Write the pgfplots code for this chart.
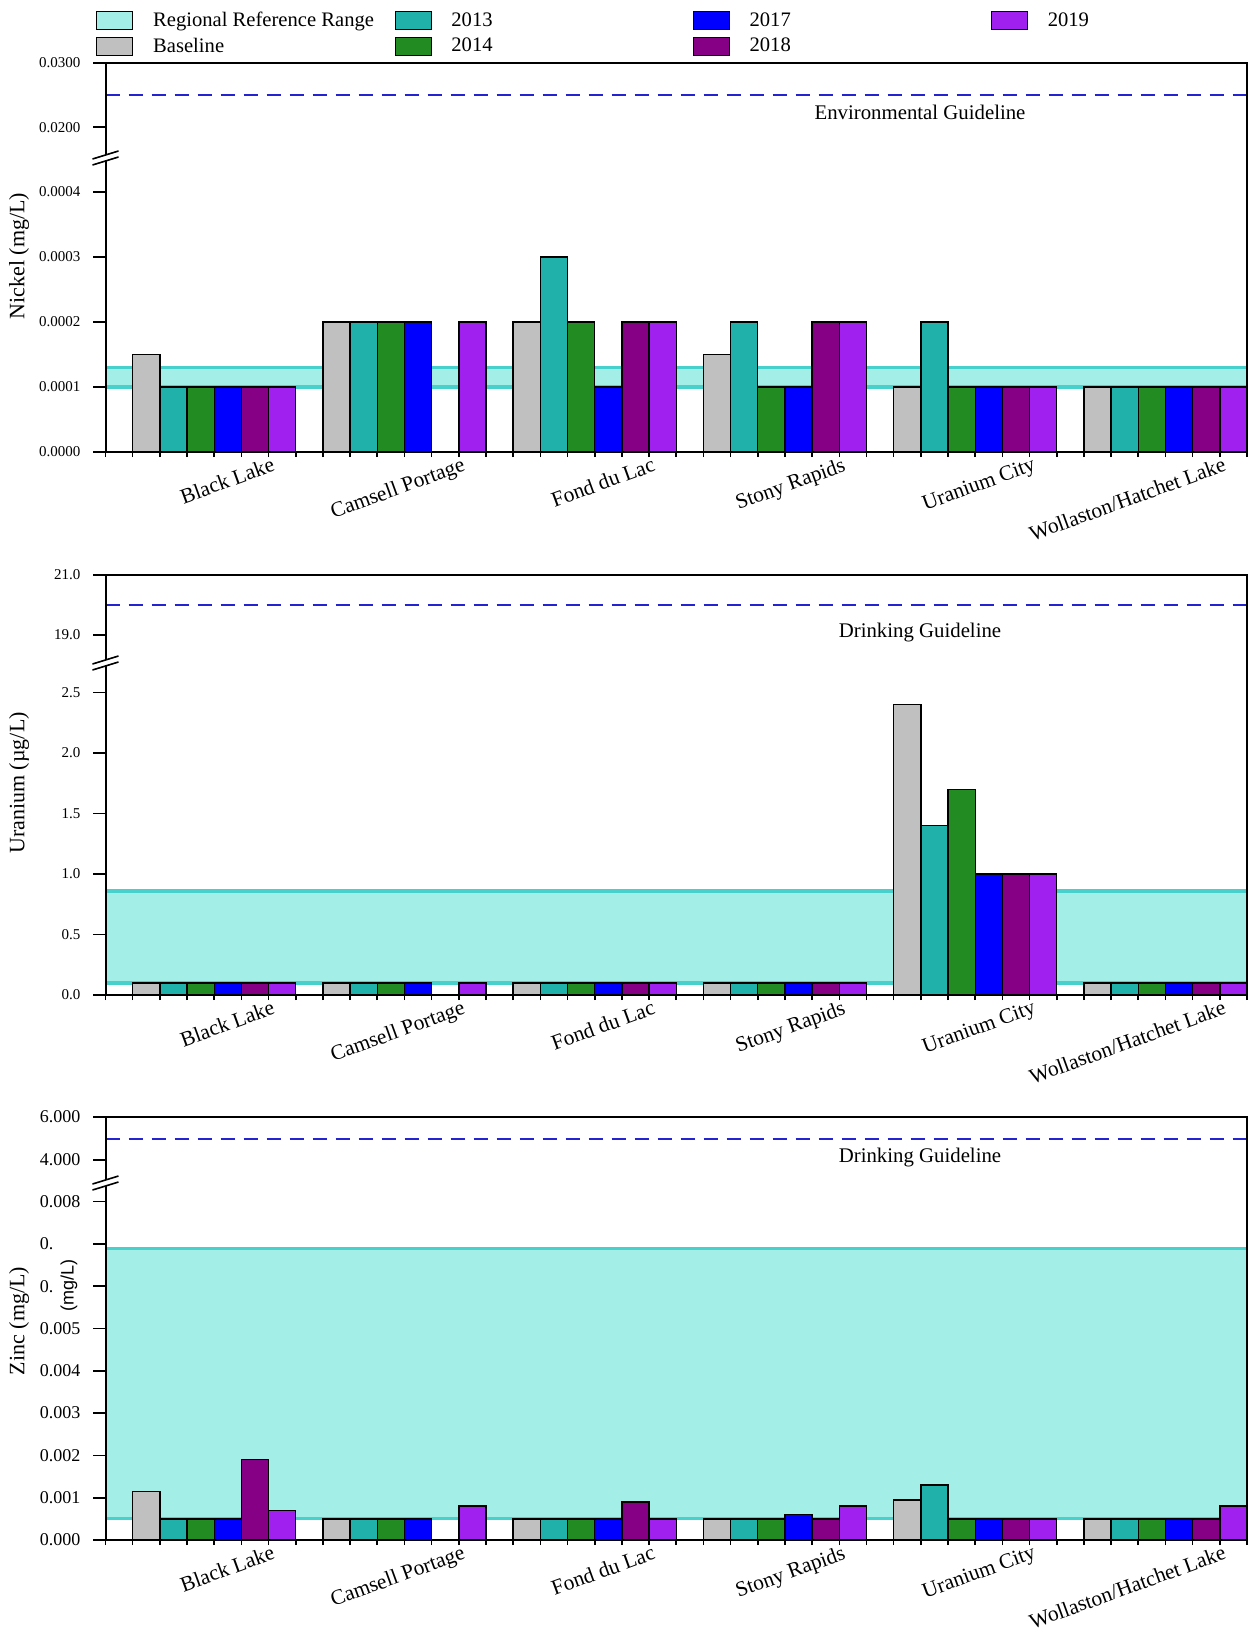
\documentclass[border=0pt]{standalone}
\usepackage{pgfplots}
\pgfplotsset{compat=1.18}
\usepackage{pgfplotstable}
\usepackage{fontspec}
\setmainfont{Liberation Serif}
\newfontfamily\arialfont{Liberation Sans}

\definecolor{cband}{HTML}{A3EEE7}
\definecolor{cbandline}{HTML}{48D1CC}
\definecolor{cbase}{HTML}{C0C0C0}
\definecolor{ca}{HTML}{20B2AA}
\definecolor{cb}{HTML}{228B22}
\definecolor{cc}{HTML}{0000FF}
\definecolor{cd}{HTML}{850085}
\definecolor{ce}{HTML}{A020F0}
\definecolor{cguide}{HTML}{2323CF}

\pgfplotstableread{
g base y13 y14 y17 y18 y19
0 0.00015 0.0001 0.0001 0.0001 0.0001 0.0001
1 0.0002 0.0002 0.0002 0.0002 nan 0.0002
2 0.0002 0.0003 0.0002 0.0001 0.0002 0.0002
3 0.00015 0.0002 0.0001 0.0001 0.0002 0.0002
4 0.0001 0.0002 0.0001 0.0001 0.0001 0.0001
5 0.0001 0.0001 0.0001 0.0001 0.0001 0.0001
}\nickel

\pgfplotstableread{
g base y13 y14 y17 y18 y19
0 0.1 0.1 0.1 0.1 0.1 0.1
1 0.1 0.1 0.1 0.1 nan 0.1
2 0.1 0.1 0.1 0.1 0.1 0.1
3 0.1 0.1 0.1 0.1 0.1 0.1
4 2.4 1.4 1.7 1.0 1.0 1.0
5 0.1 0.1 0.1 0.1 0.1 0.1
}\uranium

\pgfplotstableread{
g base y13 y14 y17 y18 y19
0 0.00115 0.0005 0.0005 0.0005 0.0019 0.0007
1 0.0005 0.0005 0.0005 0.0005 nan 0.0008
2 0.0005 0.0005 0.0005 0.0005 0.0009 0.0005
3 0.0005 0.0005 0.0005 0.0006 0.0005 0.0008
4 0.00095 0.0013 0.0005 0.0005 0.0005 0.0005
5 0.0005 0.0005 0.0005 0.0005 0.0005 0.0008
}\zinc

\pgfplotsset{
  common/.style={scale only axis, width=570.75pt, xmin=0, xmax=42,
    anchor=south west, axis line style={draw=none},
    tick align=outside, ytick pos=left,
    every tick/.style={black, line width=0.8pt},
    tick label style={font=\fontsize{7.5}{9}\selectfont},
    scaled y ticks=false},
  upper/.style={common, xtick=\empty, major tick length=6pt, yticklabel style={xshift=-3pt}},
  lower/.style={common, major tick length=2.5pt, minor tick length=6pt,
    yticklabel style={xshift=-6.5pt},
    xtick={0,...,42}, xticklabels={}, xtick pos=left,
    extra x ticks={6.1,13.1,20.1,27.1,34.1,41.1},
    extra x tick labels={Black Lake,Camsell Portage,Fond du Lac,Stony Rapids,Uranium City,Wollaston/Hatchet Lake},
    extra x tick style={tick style={draw=none},
      tick label style={rotate=20, anchor=north east, inner sep=0pt, yshift=0.5pt,
        font=\fontsize{10.7}{12}\selectfont}}},
  bar/.style={ybar, bar width=1, bar shift=0pt, draw=black, line width=0.7pt, forget plot},
  guide/.style={cguide, line width=1pt, dash pattern=on 7pt off 4.5pt, forget plot},
}

\newcommand{\groupbars}[1]{%
\addplot[bar, fill=cbase] table[x expr=7*\thisrow{g}+1.5, y=base]{#1};
\addplot[bar, fill=ca] table[x expr=7*\thisrow{g}+2.5, y=y13]{#1};
\addplot[bar, fill=cb] table[x expr=7*\thisrow{g}+3.5, y=y14]{#1};
\addplot[bar, fill=cc] table[x expr=7*\thisrow{g}+4.5, y=y17]{#1};
\addplot[bar, fill=cd] table[x expr=7*\thisrow{g}+5.5, y=y18]{#1};
\addplot[bar, fill=ce] table[x expr=7*\thisrow{g}+6.5, y=y19]{#1};
}
\newcommand{\band}[2]{%
\addplot[draw=none, fill=cband, forget plot] coordinates {(0,#1) (42,#1) (42,#2) (0,#2)} -- cycle;
\addplot[cbandline, line width=1.6pt, forget plot] coordinates {(0,#1) (42,#1)};
\addplot[cbandline, line width=1.6pt, forget plot] coordinates {(0,#2) (42,#2)};
}
\newcommand{\brk}[1]{%
\fill[white] (46.25pt,#1-3.5pt) -- (59.25pt,#1+0.5pt) -- (59.25pt,#1+3.5pt) -- (46.25pt,#1-0.5pt) -- cycle;
\draw[line width=0.8pt] (46.25pt,#1-3.5pt) -- (59.25pt,#1+0.5pt);
\draw[line width=0.8pt] (46.25pt,#1-0.5pt) -- (59.25pt,#1+3.5pt);
}

\begin{document}
\begin{tikzpicture}
% ---------------- Nickel ----------------
\begin{axis}[upper, at={(52.75pt,-79pt)}, height=47.5pt, ymin=0.0152, ymax=0.03,
  ytick={0.02,0.03}, yticklabels={0.0200,0.0300},
  legend columns=4, legend cell align=left,
  legend image code/.code={\fill[#1] (0pt,-4.5pt) rectangle (18pt,4.5pt);},
  legend style={at={(axis description cs:0,1)}, anchor=north west,
    xshift=-4.75pt, yshift=26pt, draw=none, fill=none, inner sep=0pt,
    column sep=0pt, row sep=3.5pt, font=\fontsize{10.3}{12}\selectfont,
    nodes={inner sep=0pt}}]
\addlegendimage{fill=cband}
\addlegendentry{\hspace{10pt}\makebox[120.7pt][l]{Regional Reference Range}}
\addlegendimage{fill=ca}
\addlegendentry{\hspace{10pt}\makebox[120.7pt][l]{2013}}
\addlegendimage{fill=cc}
\addlegendentry{\hspace{10pt}\makebox[120.7pt][l]{2017}}
\addlegendimage{fill=ce}
\addlegendentry{\hspace{10pt}\makebox[120.7pt][l]{2019}}
\addlegendimage{fill=cbase}
\addlegendentry{\hspace{10pt}\makebox[120.7pt][l]{Baseline}}
\addlegendimage{fill=cb}
\addlegendentry{\hspace{10pt}\makebox[120.7pt][l]{2014}}
\addlegendimage{fill=cd}
\addlegendentry{\hspace{10pt}\makebox[120.7pt][l]{2018}}
\addplot[guide] coordinates {(0,0.025) (42,0.025)};
\end{axis}
\begin{axis}[lower, at={(52.75pt,-226pt)}, height=147pt, ymin=0, ymax=0.000452,
  ytick={0,0.0001,0.0002,0.0003,0.0004},
  minor ytick={0,0.0001,0.0002,0.0003,0.0004},
  yticklabels={0.0000,0.0001,0.0002,0.0003,0.0004}]
\band{0.0001}{0.00013}
\groupbars{\nickel}
\end{axis}
% ---------------- Uranium ----------------
\begin{axis}[upper, at={(52.75pt,-331.5pt)}, height=44pt, ymin=18.07, ymax=21,
  ytick={19,21}, yticklabels={19.0,21.0}]
\addplot[guide] coordinates {(0,20) (42,20)};
\end{axis}
\begin{axis}[lower, at={(52.75pt,-497.5pt)}, height=166pt, ymin=0, ymax=2.744,
  ytick={0,0.5,1,1.5,2,2.5}, minor ytick={0,0.5,1,1.5,2,2.5},
  yticklabels={0.0,0.5,1.0,1.5,2.0,2.5}]
\band{0.1}{0.86}
\groupbars{\uranium}
\end{axis}
% ---------------- Zinc ----------------
\begin{axis}[upper, at={(52.75pt,-591.5pt)}, height=33pt, ymin=2.93, ymax=6,
  ytick={4,6}, yticklabels={4.000,6.000},
  tick label style={font=\fontsize{9}{11}\selectfont}]
\addplot[guide] coordinates {(0,5) (42,5)};
\end{axis}
\begin{axis}[lower, at={(52.75pt,-770pt)}, height=178.5pt, ymin=0, ymax=0.00844,
  ytick={0,0.001,0.002,0.003,0.004,0.005,0.006,0.007,0.008},
  minor ytick={0,0.001,0.002,0.003,0.004,0.005,0.006,0.007,0.008},
  yticklabels={0.000,0.001,0.002,0.003,0.004,0.005,0.\phantom{000},0.\phantom{000},0.008},
  yticklabel style={font=\fontsize{9}{11}\selectfont}]
\band{0.0005}{0.0069}
\groupbars{\zinc}
\end{axis}
% frames
\draw[line width=1pt] (52.75pt,-31.5pt) rectangle (623.5pt,-226pt);
\draw[line width=1pt] (52.75pt,-287.5pt) rectangle (623.5pt,-497.5pt);
\draw[line width=1pt] (52.75pt,-558.5pt) rectangle (623.5pt,-770pt);
\brk{-79pt}
\brk{-331.5pt}
\brk{-591.5pt}
% guideline texts
\node[font=\fontsize{10.4}{12}\selectfont] at (460pt,-56pt) {Environmental Guideline};
\node[font=\fontsize{10.4}{12}\selectfont] at (460pt,-316.5pt) {Drinking Guideline};
\node[font=\fontsize{10.4}{12}\selectfont] at (460pt,-579pt) {Drinking Guideline};
% y labels
\node[rotate=90, font=\fontsize{11}{13}\selectfont] at (9.5pt,-128pt) {Nickel (mg/L)};
\node[rotate=90, font=\fontsize{11}{13}\selectfont] at (9.5pt,-391.5pt) {Uranium (µg/L)};
\node[rotate=90, font=\fontsize{11}{13}\selectfont] at (9.5pt,-660.5pt) {Zinc (mg/L)};
\node[rotate=90, font=\arialfont\fontsize{9}{11}\selectfont] at (34.5pt,-642.5pt) {(mg/L)};
\pgfresetboundingbox
\path[use as bounding box] (0pt,0pt) rectangle (624.5pt,-818.5pt);
\end{tikzpicture}
\end{document}
